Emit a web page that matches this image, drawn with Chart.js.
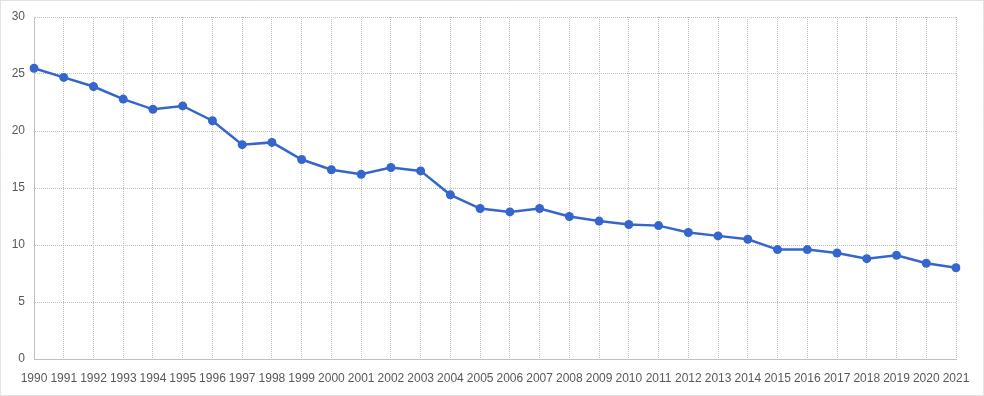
<!DOCTYPE html>
<html>
<head>
<meta charset="utf-8">
<script src="https://cdn.jsdelivr.net/npm/chart.js@4/dist/chart.umd.min.js"></script>
<style>
html,body{margin:0;padding:0;background:#fff;}
#wrap{width:984px;height:396px;position:relative;}
</style>
</head>
<body>
<div id="wrap"><canvas id="c" width="984" height="396"></canvas></div>
<script>
const years = ["1990","1991","1992","1993","1994","1995","1996","1997","1998","1999","2000","2001","2002","2003","2004","2005","2006","2007","2008","2009","2010","2011","2012","2013","2014","2015","2016","2017","2018","2019","2020","2021"];
const values = [25.5,24.7,23.9,22.8,21.9,22.2,20.9,18.8,19.0,17.5,16.6,16.2,16.8,16.5,14.4,13.2,12.9,13.2,12.5,12.1,11.8,11.7,11.1,10.8,10.5,9.6,9.6,9.3,8.8,9.1,8.4,8.0];
const yMin = 0, yMax = 30, yStep = 5;

const borderPlugin = {
  id: 'outerBorder',
  afterDraw(chart) {
    const ctx = chart.ctx;
    ctx.save();
    ctx.strokeStyle = '#c6c6c6';
    ctx.lineWidth = 1;
    ctx.setLineDash([1,1]);
    ctx.strokeRect(0.5, 0.5, chart.width - 1, chart.height - 1);
    ctx.restore();
  }
};

new Chart(document.getElementById('c'), {
  type: 'line',
  data: {
    labels: years,
    datasets: [{
      data: values,
      borderColor: '#3566cc',
      backgroundColor: '#3566cc',
      borderWidth: 2.5,
      pointRadius: 4.5,
      pointHoverRadius: 4.5,
      pointBorderWidth: 0,
      tension: 0
    }]
  },
  options: {
    responsive: false,
    animation: false,
    devicePixelRatio: 1,
    layout: { padding: { top: 17, right: 28, bottom: 0, left: 0 } },
    plugins: { legend: { display: false }, tooltip: { enabled: false } },
    scales: {
      x: {
        offset: false,
        grid: { color: '#bfbfbf', lineWidth: 1, drawTicks: false, tickLength: 0 },
        border: { display: true, color: '#bfbfbf', dash: [1,1] },
        ticks: { color: '#595959', font: { family: 'Liberation Sans, Arial, sans-serif', size: 12 }, padding: 12, maxRotation: 0, autoSkip: false },
        afterFit(s) { s.height = 37; }
      },
      y: {
        min: yMin, max: yMax,
        grid: { color: '#bfbfbf', lineWidth: 1, drawTicks: false, tickLength: 0 },
        border: { display: true, color: '#bfbfbf', dash: [1,1] },
        ticks: { stepSize: yStep, color: '#595959', font: { family: 'Liberation Sans, Arial, sans-serif', size: 12 }, padding: 9 },
        afterFit(s) { s.width = 34; }
      }
    }
  },
  plugins: [borderPlugin]
});
</script>
</body>
</html>
